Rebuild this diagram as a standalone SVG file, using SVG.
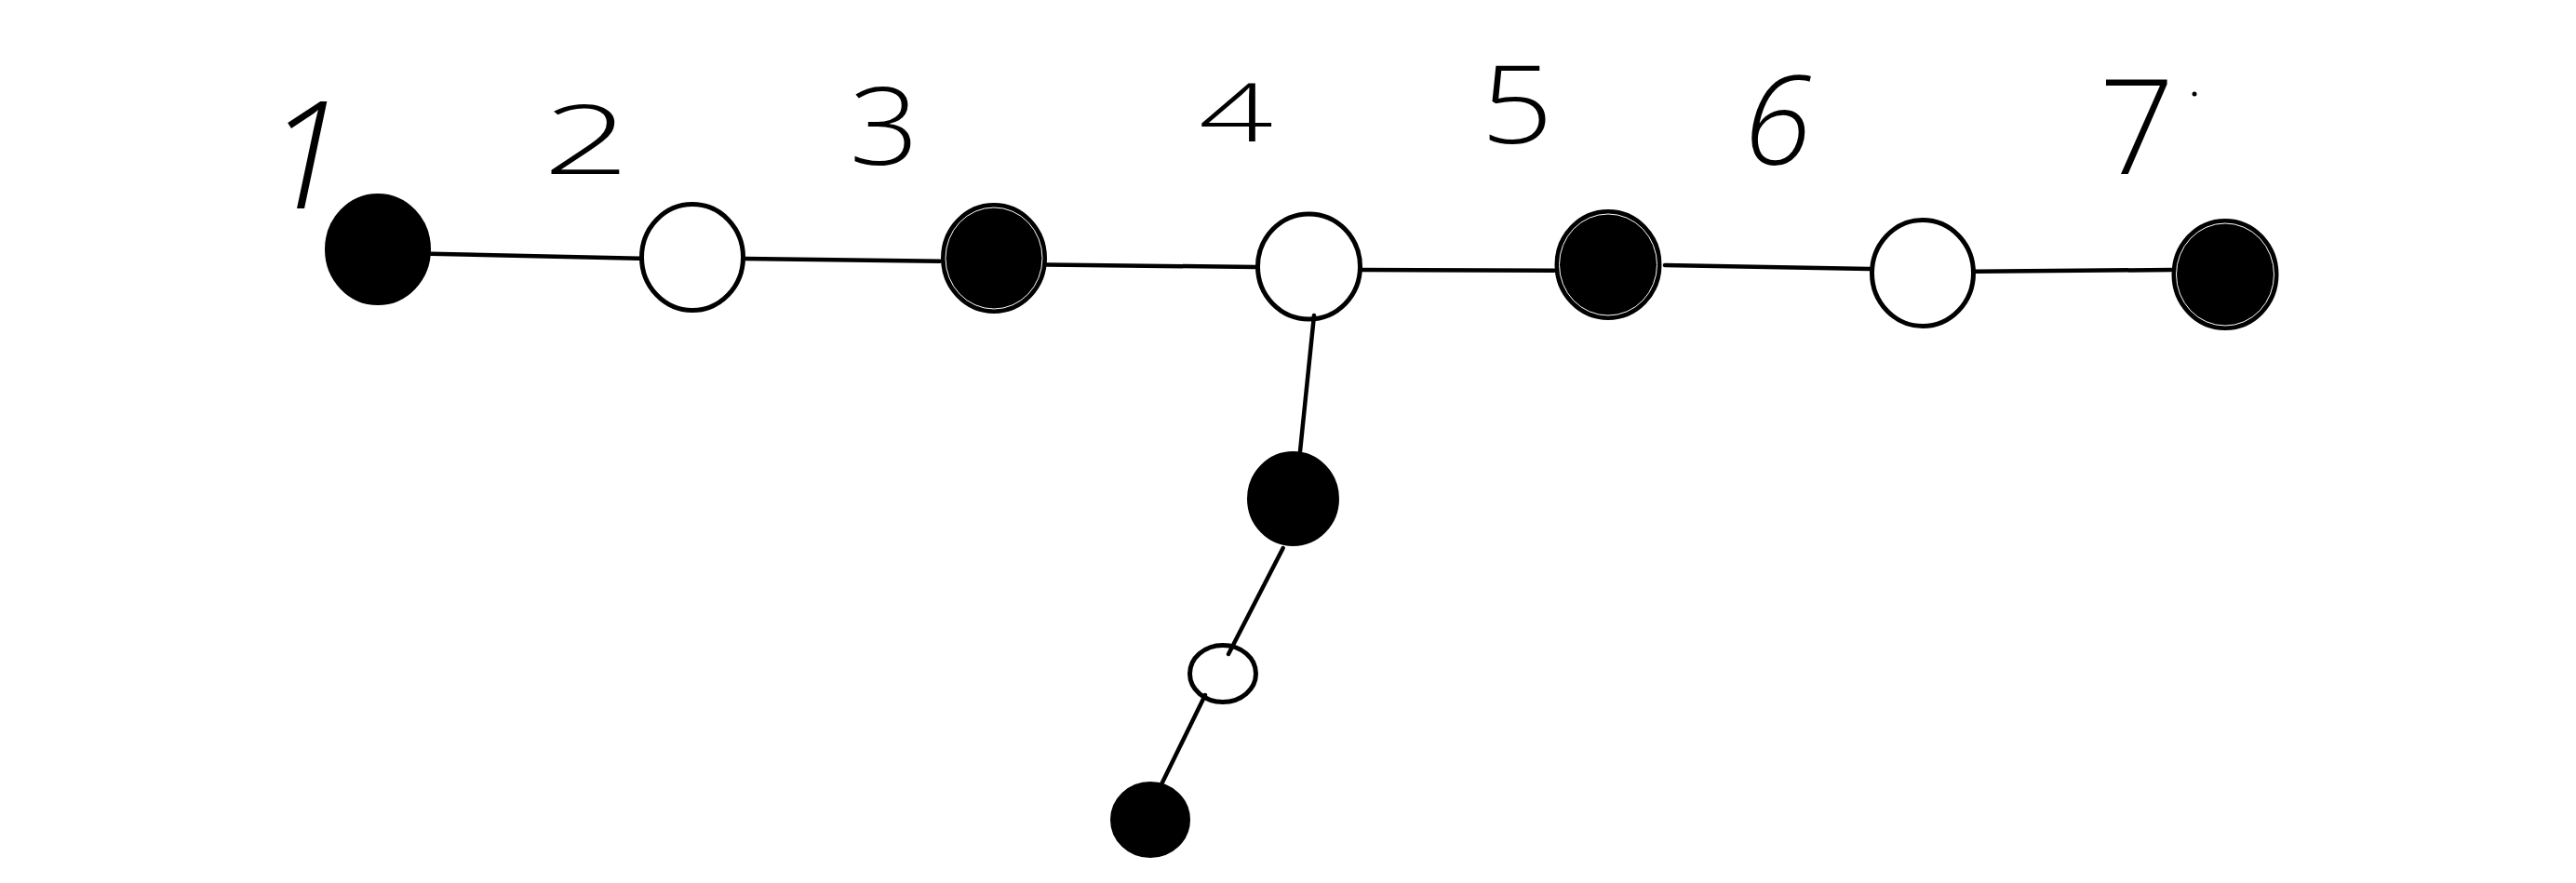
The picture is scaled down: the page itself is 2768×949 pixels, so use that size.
<svg xmlns="http://www.w3.org/2000/svg" width="2768" height="949" viewBox="0 0 2768 949">
<style>
.filled{fill:#000;stroke:#000;stroke-width:3}
.inner{fill:none;stroke:#fff;stroke-width:1}
.open{fill:#fff;stroke:#000;stroke-width:5}
.edge{stroke:#000;stroke-width:4.5;stroke-linecap:round;fill:none}
.lbl{font-family:"Open Sans","Roboto","DejaVu Sans",sans-serif;font-weight:300;fill:#000;text-anchor:middle}
</style>
<rect width="2768" height="949" fill="#fff"/>
<g id="labels">
<text class="lbl" x="328" y="224" font-size="160" font-style="italic">1</text>
<text class="lbl" x="630" y="187" font-size="103" textLength="93" lengthAdjust="spacingAndGlyphs">2</text>
<text class="lbl" x="950" y="177" font-size="116" textLength="75" lengthAdjust="spacingAndGlyphs">3</text>
<text class="lbl" x="1328" y="152" font-size="86" textLength="80" lengthAdjust="spacingAndGlyphs">4</text>
<text class="lbl" x="1630" y="154" font-size="117" textLength="78" lengthAdjust="spacingAndGlyphs">5</text>
<text class="lbl" x="1910" y="177" font-size="133" font-style="italic">6</text>
<text class="lbl" x="2296" y="187" font-size="142">7</text>
<circle cx="2358" cy="101" r="2.5" fill="#000"/>
</g>
<g id="node1"><ellipse class="filled" cx="406" cy="268" rx="55.5" ry="58.5"/></g>
<g id="node2"><ellipse class="open" cx="744" cy="276.5" rx="54.5" ry="57"/></g>
<g id="node3"><ellipse class="filled" cx="1068" cy="277.5" rx="55.5" ry="58"/><ellipse class="inner" cx="1068" cy="277.5" rx="52" ry="54.5"/></g>
<g id="node4"><ellipse class="open" cx="1406.5" cy="286.5" rx="55" ry="56.5"/></g>
<g id="node5"><ellipse class="filled" cx="1728" cy="284.5" rx="56" ry="58"/><ellipse class="inner" cx="1728" cy="284.5" rx="52.5" ry="54.5"/></g>
<g id="node6"><ellipse class="open" cx="2066" cy="293.5" rx="54.5" ry="57"/></g>
<g id="node7"><ellipse class="filled" cx="2391" cy="295" rx="56" ry="58.5"/><ellipse class="inner" cx="2391" cy="295" rx="52.5" ry="55"/></g>
<g id="node8"><ellipse class="filled" cx="1389.5" cy="536" rx="48" ry="49.5"/></g>
<g id="node9"><ellipse class="open" cx="1314" cy="724" rx="35.5" ry="30.5"/></g>
<g id="node10"><ellipse class="filled" cx="1236" cy="881" rx="41.5" ry="39.5"/></g>
<g id="connectors">
<line class="edge" x1="463" y1="272.7" x2="687" y2="277.7"/>
<line class="edge" x1="801" y1="278" x2="1010" y2="280.7"/>
<line class="edge" x1="1125" y1="284.5" x2="1350" y2="287"/>
<line class="edge" x1="1464" y1="290" x2="1670" y2="290.7"/>
<line class="edge" x1="1789" y1="285" x2="2009" y2="289"/>
<line class="edge" x1="2123" y1="291.7" x2="2333" y2="290"/>
<line class="edge" x1="1412" y1="339" x2="1397" y2="485"/>
<line class="edge" x1="1378.7" y1="589" x2="1320" y2="703"/>
<line class="edge" x1="1295" y1="747" x2="1248" y2="843"/>
</g>
</svg>
